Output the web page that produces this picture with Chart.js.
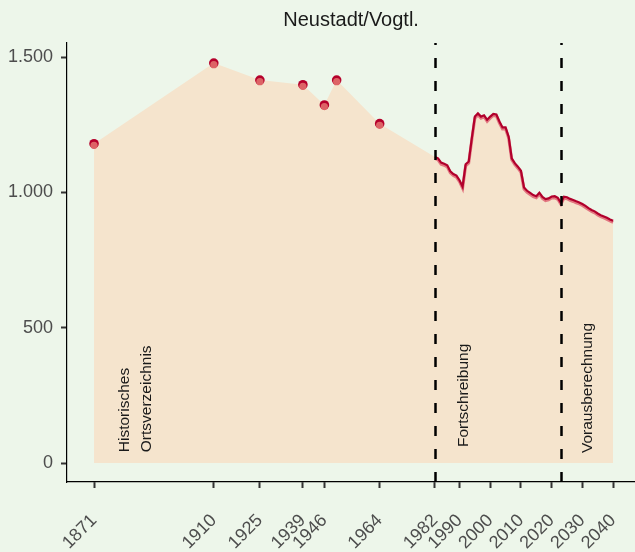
<!DOCTYPE html>
<html>
<head>
<meta charset="utf-8">
<script src="https://cdn.jsdelivr.net/npm/chart.js@4.4.1/dist/chart.umd.min.js"></script>
<style>
    html, body { margin: 0; padding: 0; background: #edf6ea; overflow: hidden; }
    #wrap { width: 640px; height: 552px; }
</style>
</head>
<body>
<div id="wrap"><canvas id="myChart"></canvas></div>
<script>
// historische Werte (Punkte)
const histJahre = [1871, 1910, 1925, 1939, 1946, 1950, 1964];
const histWerte = [1180, 1478, 1415, 1398, 1323, 1415, 1254];

// Fortschreibung + Vorausberechnung (Linie)
const jahre = [1982, 1983, 1984, 1985, 1986, 1987, 1988, 1989, 1990, 1991,
    1992, 1993, 1994, 1995, 1996, 1997, 1998, 1999, 2000, 2001,
    2002, 2003, 2004, 2005, 2006, 2007, 2008, 2009, 2010, 2011,
    2012, 2013, 2014, 2015, 2016, 2017, 2018, 2019, 2020, 2021,
    2022, 2023, 2024, 2025, 2026, 2027, 2028, 2029, 2030, 2031,
    2032, 2033, 2034, 2035, 2036, 2037, 2038, 2039, 2040];
const werte = [1131, 1126, 1110, 1106, 1100, 1078, 1068, 1062, 1045, 1021,
    1104, 1114, 1200, 1280, 1292, 1280, 1285, 1268, 1280, 1290,
    1288, 1262, 1240, 1240, 1206, 1126, 1108, 1095, 1080, 1018,
    1006, 998, 990, 986, 999, 983, 975, 978, 985, 986,
    980, 962, 984, 982, 976, 972, 967, 963, 957, 950,
    942, 935, 930, 922, 916, 911, 906, 900, 895];

const tickJahre = [1871, 1910, 1925, 1939, 1946, 1964, 1982, 1990, 2000, 2010, 2020, 2030, 2040];
const yTicks = [0, 500, 1000, 1500];
const trennJahre = [1982, 2023];
const titel = 'Neustadt/Vogtl.';

const beschriftungen = [
    { text: 'Historisches', x: 1881.1, y: 40 },
    { text: 'Ortsverzeichnis', x: 1888.3, y: 40 },
    { text: 'Fortschreibung', x: 1991.5, y: 59 },
    { text: 'Vorausberechnung', x: 2031.6, y: 37 }
];

const punkte = histJahre.map((j, i) => ({ x: j, y: histWerte[i] }));
const linie = jahre.map((j, i) => ({ x: j, y: werte[i] }));
const flaeche = punkte.concat(linie);

Chart.defaults.font.family = "'Liberation Sans', Arial, sans-serif";

const hintergrund = {
    id: 'hintergrund',
    beforeDraw(chart) {
        const ctx = chart.ctx;
        ctx.save();
        ctx.fillStyle = '#edf6ea';
        ctx.fillRect(0, 0, chart.width, chart.height);
        ctx.restore();
    }
};

const verschieben = {
    id: 'verschieben',
    beforeDatasetDraw(chart, args) {
        const ds = chart.data.datasets[args.index];
        chart.ctx.save();
        if (ds.shiftY) chart.ctx.translate(0, ds.shiftY);
    },
    afterDatasetDraw(chart) {
        chart.ctx.restore();
    }
};

const extras = {
    id: 'extras',
    afterDatasetsDraw(chart) {
        const ctx = chart.ctx;
        const xs = chart.scales.x;
        const ys = chart.scales.y;
        const area = chart.chartArea;

        // gestrichelte Trennlinien
        ctx.save();
        ctx.strokeStyle = '#000';
        ctx.lineWidth = 2.5;
        ctx.setLineDash([10, 13]);
        for (const j of trennJahre) {
            const px = Math.round(xs.getPixelForValue(j)) + 0.5;
            ctx.beginPath();
            ctx.moveTo(px, area.bottom);
            ctx.lineTo(px, area.top);
            ctx.stroke();
        }
        ctx.restore();

        // senkrechte Texte
        ctx.save();
        ctx.fillStyle = '#1a1a1a';
        ctx.font = "15.5px 'Liberation Sans', Arial, sans-serif";
        ctx.textAlign = 'left';
        ctx.textBaseline = 'middle';
        for (const b of beschriftungen) {
            ctx.save();
            ctx.translate(xs.getPixelForValue(b.x), ys.getPixelForValue(b.y));
            ctx.rotate(-Math.PI / 2);
            ctx.fillText(b.text, 0, 0);
            ctx.restore();
        }
        ctx.restore();

        // Titel
        ctx.save();
        ctx.fillStyle = '#1a1a1a';
        ctx.font = "20px 'Liberation Sans', Arial, sans-serif";
        ctx.textAlign = 'center';
        ctx.textBaseline = 'middle';
        ctx.fillText(titel, (area.left + area.right) / 2, 20);
        ctx.restore();
    }
};

const ctx = document.getElementById('myChart').getContext('2d');
const chart = new Chart(ctx, {
    type: 'line',
    data: {
        datasets: [
            {
                data: punkte,
                showLine: false,
                pointRadius: 3.6,
                pointBorderWidth: 0,
                pointBackgroundColor: '#dd6366',
                shiftY: 1.6
            },
            {
                data: punkte,
                showLine: false,
                pointRadius: 4.8,
                pointBorderWidth: 0,
                pointBackgroundColor: '#b5002b'
            },
            {
                data: linie,
                borderColor: '#b1002c',
                borderWidth: 2.2,
                pointRadius: 0,
                fill: false
            },
            {
                data: linie,
                borderColor: '#e27680',
                borderWidth: 3,
                pointRadius: 0,
                fill: false,
                shiftY: 1.5
            },
            {
                data: flaeche,
                borderWidth: 0,
                pointRadius: 0,
                backgroundColor: '#f5e4cd',
                fill: 'origin'
            }
        ]
    },
    options: {
        responsive: true,
        maintainAspectRatio: false,
        animation: false,
        layout: { padding: { top: 43, right: 0, left: 0, bottom: 0 } },
        plugins: {
            legend: { display: false },
            tooltip: { enabled: false },
            title: { display: false }
        },
        scales: {
            x: {
                type: 'linear',
                min: 1862.2,
                max: 2047.2,
                afterBuildTicks: axis => { axis.ticks = tickJahre.map(v => ({ value: v })); },
                afterFit: axis => {
                    axis.height = 70;
                    axis.paddingLeft = 0;
                    axis.paddingRight = 0;
                },
                ticks: {
                    autoSkip: false,
                    minRotation: 45,
                    maxRotation: 45,
                    padding: 22,
                    color: '#4d4d4d',
                    font: { size: 18 },
                    callback: v => String(v)
                },
                grid: {
                    drawOnChartArea: false,
                    tickLength: 6,
                    tickWidth: 2,
                    tickColor: '#333'
                },
                border: { color: '#000', width: 1.2 }
            },
            y: {
                type: 'linear',
                min: -70,
                max: 1552,
                afterBuildTicks: axis => { axis.ticks = yTicks.map(v => ({ value: v })); },
                afterFit: axis => { axis.width = 67; },
                ticks: {
                    padding: 8,
                    color: '#4d4d4d',
                    font: { size: 18 },
                    callback: v => v.toLocaleString('de-DE')
                },
                grid: {
                    drawOnChartArea: false,
                    tickLength: 6,
                    tickWidth: 2,
                    tickColor: '#333'
                },
                border: { color: '#000', width: 1.2 }
            }
        }
    },
    plugins: [hintergrund, verschieben, extras]
});
</script>
</body>
</html>
